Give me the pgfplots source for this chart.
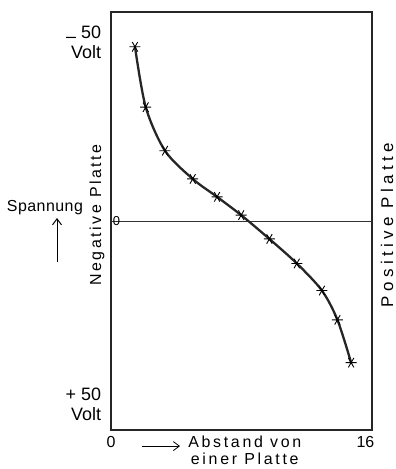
\documentclass[border=0pt]{standalone}
\usepackage{fontspec}
\setmainfont{Liberation Sans}
\newfontfamily\negsp[LetterSpace=16]{Liberation Sans}
\newfontfamily\possp[LetterSpace=26]{Liberation Sans}
\newfontfamily\abssp[LetterSpace=17]{Liberation Sans}
\newfontfamily\spsp[LetterSpace=3]{Liberation Sans}
\usepackage{pgfplots}
\pgfplotsset{compat=1.18}
\usetikzlibrary{arrows.meta}

\newcommand\lab{\fontsize{16}{20}\selectfont}
\newcommand\voltlab{\fontsize{18}{20}\selectfont}

\begin{document}
\begin{tikzpicture}[barb/.style={-{Straight Barb[length=6bp,width=9bp]}}]
\begin{axis}[
    name=ax,
    scale only axis,
    width=261bp, height=418bp,
    xmin=0, xmax=16,
    ymin=-57.1, ymax=57.1,
    y dir=reverse,
    xtick=\empty, ytick=\empty,
    axis line style={line width=1.1bp, black!85},
    clip=false,
]
% zero line
\addplot[black!80, line width=0.8bp, no marks] coordinates {(0,0)(16,0)};

% measured potential between the plates
\addplot[black!85, line width=2.3bp, smooth,
    mark=asterisk, mark size=5.5bp,
    mark options={line width=0.9bp, black, rotate=90}]
    coordinates {
    (1.47,-47.6)(2.13,-31.1)(3.31,-19.2)(5.01,-11.5)(6.50,-6.6)
    (7.98,-1.6)(9.71,4.9)(11.39,11.6)(12.93,19.0)(13.88,27.0)(14.72,38.7)
    };

\node[anchor=west, inner sep=0, font=\fontsize{13}{13}\selectfont] at (axis cs:0.1,0) {0};

\node[anchor=east, align=right, font=\voltlab, inner sep=0] at (axis cs:-0.6,-48.9) {\raisebox{-0.25em}{\textendash}\ 50\\Volt};
\node[anchor=east, align=right, font=\voltlab, inner sep=0] at (axis cs:-0.6,50.0) {+ 50\\Volt};
\node[font=\lab\spsp] at (axis cs:-4.05,-3.55) {Spannung};
\draw[barb, line width=1bp] (axis cs:-3.31,11.2) -- (axis cs:-3.31,-0.8);
\node[rotate=90, font=\lab\negsp] at (axis cs:-0.86,-1.64) {Negative Platte};
\node[rotate=90, font=\fontsize{17}{20}\selectfont\possp] at (axis cs:16.92,1.1) {Positive Platte};

\node[font=\lab] at (axis cs:0,60.4) {0};
\node[font=\lab] at (axis cs:15.6,60.4) {16};
\draw[barb, line width=0.8bp] (axis cs:1.90,61.5) -- (axis cs:4.23,61.5);
\node[align=center, font=\fontsize{16}{17.5}\selectfont\abssp, inner sep=1bp] at (axis cs:8.2,62.7) {Abstand von\\einer Platte};
\end{axis}
\pgfresetboundingbox
\path ([shift={(-111bp,-39bp)}]ax.south west) rectangle ++(396bp,469bp);
\end{tikzpicture}
\end{document}
